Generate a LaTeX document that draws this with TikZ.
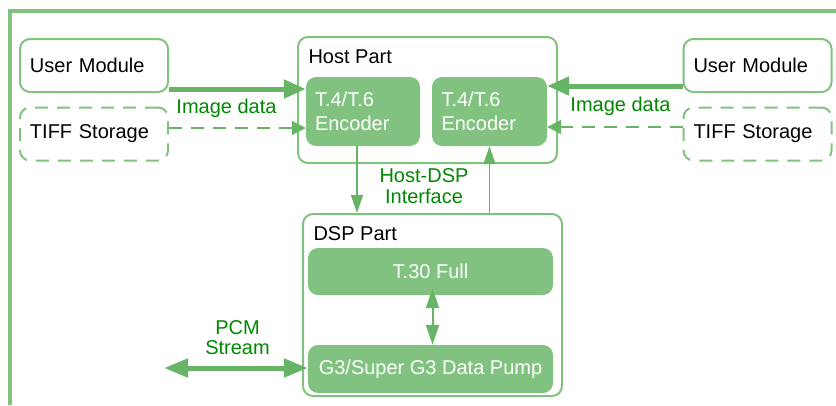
\documentclass[tikz,border=0pt]{standalone}
\usepackage{fontspec}
\setmainfont{Liberation Sans}
\usetikzlibrary{arrows.meta}

\definecolor{boxline}{RGB}{128,194,126}
\definecolor{boxfill}{RGB}{130,194,128}
\definecolor{arrowcol}{RGB}{104,180,102}
\definecolor{labelgreen}{RGB}{0,136,0}

\begin{document}
\begin{tikzpicture}[x=1pt,y=-1pt,
    font=\fontsize{20}{24}\selectfont,
    module/.style={draw=boxline, line width=2pt, rounded corners=10pt,
        minimum width=148pt, minimum height=53pt, text width=128pt,
        align=left, inner sep=0pt},
    storage/.style={module, dash pattern=on 13pt off 9pt},
    partbox/.style={draw=boxline, line width=2pt, rounded corners=10pt, inner sep=0pt},
    encoder/.style={fill=boxfill, rounded corners=10pt, text=white,
        minimum width=114pt, minimum height=69pt, text width=96pt,
        align=left, inner sep=0pt},
    dspblock/.style={fill=boxfill, rounded corners=10pt, text=white,
        minimum width=245pt, minimum height=47pt, inner sep=0pt},
    flowlabel/.style={text=labelgreen, align=center, inner sep=0pt},
    thickarrow/.style={draw=arrowcol, line width=5pt, -{Triangle[length=22pt,width=18pt]}},
    dasharrow/.style={draw=arrowcol, line width=2pt, dash pattern=on 13pt off 9pt,
        -{Triangle[length=14pt,width=14pt]}},
    thinarrow/.style={draw=arrowcol, line width=1.5pt, -{Triangle[length=18pt,width=12pt]}},
]

\useasboundingbox (0,0) rectangle (836,405);

% outer frame
\draw[boxline, line width=4pt] (9.5,405) -- (9.5,10.5) -- (836,10.5);

% parts
\node[partbox, minimum width=259pt, minimum height=126pt] (host) at (427.5,100) {};
\node[anchor=base west] (hostlbl) at (305,63) {Host Part};
\node[partbox, minimum width=259pt, minimum height=182pt] (dsp) at (432.5,305) {};
\node[anchor=base west] (dsplbl) at (310,240) {DSP Part};

% host side
\node[module]  (userL) at (94,65.5)   {User Module};
\node[storage] (tiffL) at (94,134)    {TIFF Storage};
\node[module]  (userR) at (757.5,65.5) {User Module};
\node[storage] (tiffR) at (757.5,134)  {TIFF Storage};

\node[encoder] (encL) at (363,111.5)   {T.4/T.6\\Encoder};
\node[encoder, minimum width=115pt] (encR) at (489.5,111.5) {T.4/T.6\\Encoder};

% dsp side
\node[dspblock] (t30)  at (430.5,271.5) {T.30 Full};
\node[dspblock, minimum height=48pt] (pump) at (430.5,369) {G3/Super G3 Data Pump};

% connectors
\draw[thickarrow] ([yshift=4pt]userL.south east) -- ([yshift=4pt]userL.south east -| encL.west);
\draw[dasharrow] ([yshift=6pt]tiffL.east) -- ([yshift=6pt]tiffL.east -| encL.west);
\draw[thickarrow] ([yshift=7pt]userR.south west) -- ([yshift=7pt]userR.south west -| encR.east);
\draw[dasharrow] ([yshift=7pt]tiffR.west) -- ([yshift=7pt]tiffR.west -| encR.east);

\draw[thinarrow] ([xshift=-6pt]encL.south) -- ([xshift=-6pt]encL.south |- dsp.north);
\draw[thinarrow] (encR.south |- dsp.north) -- (encR.south);

\draw[draw=arrowcol, line width=2pt, {Triangle[length=20pt,width=13pt]}-{Triangle[length=20pt,width=13pt]}]
    ([xshift=2pt,yshift=7pt]t30.south) -- ([xshift=2pt]pump.north);

\coordinate (pcmend) at (164,368);
\draw[draw=arrowcol, line width=5pt, {Triangle[length=24pt,width=18pt]}-{Triangle[length=24pt,width=18pt]}]
    (pcmend) -- (pcmend -| pump.west);

% labels
\node[flowlabel] (imgL) at (226.5,108) {Image data};
\node[flowlabel] (imgR) at (620.5,106) {Image data};
\node[flowlabel, font=\fontsize{20}{21}\selectfont] (hostdsp) at (424,186.5) {Host-DSP\\Interface};
\node[flowlabel, font=\fontsize{20}{20}\selectfont] (pcm) at (237.5,337.5) {PCM\\Stream};

\end{tikzpicture}
\end{document}
